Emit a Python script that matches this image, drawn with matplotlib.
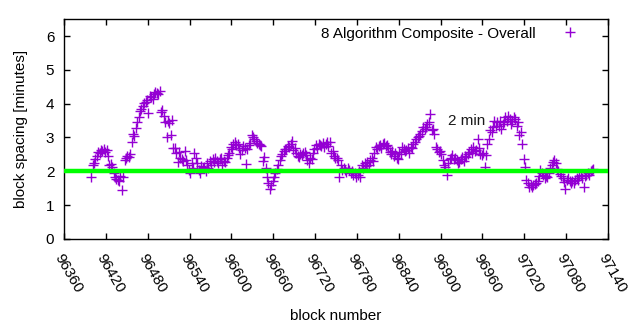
import matplotlib
matplotlib.use("Agg")
import matplotlib.pyplot as plt
import numpy as np

plt.rcParams["font.family"] = ["Liberation Sans", "DejaVu Sans"]

# block spacing (minutes), one reading every 2 blocks starting at FIRST_BLOCK
FIRST_BLOCK = 96399
BLOCK_STEP = 2
spacing = [
    1.84, 2.18, 2.25, 2.37, 2.45, 2.57, 2.55, 2.62, 2.60, 2.66,
    2.57, 2.62, 2.45, 2.18, 2.22, 2.13, 1.95, 1.83, 1.78, 1.74,
    1.70, 1.85, 1.44, 1.83, 2.32, 2.40, 2.45, 2.42, 2.52, 2.86,
    3.11, 3.05, 3.28, 3.45, 3.60, 3.79, 3.85, 3.94, 4.02, 4.04,
    4.10, 3.72, 4.24, 4.20, 4.14, 4.30, 4.35, 4.33, 4.29, 4.38,
    3.74, 3.82, 3.65, 3.45, 3.01, 3.50, 3.42, 3.07, 3.52, 2.68,
    2.68, 2.55, 2.28, 2.58, 2.40, 2.35, 2.30, 2.60, 2.33, 2.20,
    2.05, 1.94, 2.25, 2.10, 2.53, 2.40, 2.24, 2.05, 1.94, 2.15,
    2.10, 2.14, 2.00, 2.24, 2.10, 2.30, 2.18, 2.35, 2.28, 2.38,
    2.30, 2.24, 2.35, 2.40, 2.19, 2.30, 2.28, 2.40, 2.48, 2.55,
    2.71, 2.65, 2.80, 2.86, 2.78, 2.81, 2.70, 2.52, 2.62, 2.76,
    2.70, 2.23, 2.65, 2.78, 2.85, 3.06, 3.00, 2.96, 2.90, 2.85,
    2.81, 2.78, 2.76, 2.30, 2.42, 2.10, 1.83, 1.65, 1.49, 1.59,
    1.70, 1.83, 1.95, 2.08, 2.20, 2.32, 2.45, 2.52, 2.60, 2.67,
    2.65, 2.75, 2.71, 2.80, 2.91, 2.62, 2.70, 2.55, 2.45, 2.42,
    2.50, 2.47, 2.55, 2.57, 2.48, 2.33, 2.24, 2.40, 2.35, 2.55,
    2.65, 2.78, 2.70, 2.82, 2.78, 2.75, 2.85, 2.73, 2.80, 2.87,
    2.75, 2.87, 2.53, 2.60, 2.45, 2.38, 2.40, 2.33, 1.84, 2.20,
    2.04, 2.10, 2.04, 1.98, 2.09, 2.05, 1.95, 2.02, 1.89, 1.95,
    1.84, 1.90, 2.00, 1.84, 2.19, 2.10, 2.24, 2.15, 2.28, 2.20,
    2.33, 2.40, 2.30, 2.55, 2.73, 2.65, 2.75, 2.78, 2.70, 2.80,
    2.83, 2.75, 2.78, 2.70, 2.58, 2.50, 2.60, 2.45, 2.53, 2.40,
    2.35, 2.57, 2.50, 2.72, 2.65, 2.60, 2.62, 2.70, 2.55, 2.72,
    2.68, 2.80, 2.86, 2.95, 3.01, 3.05, 3.11, 3.20, 3.30, 3.25,
    3.30, 3.40, 3.45, 3.69, 3.21, 3.25, 3.11, 2.71, 2.65, 2.57,
    2.60, 2.52, 2.32, 2.20, 2.13, 1.88, 2.25, 2.37, 2.40, 2.47,
    2.35, 2.40, 2.32, 2.25, 2.27, 2.35, 2.42, 2.30, 2.45, 2.42,
    2.50, 2.57, 2.65, 2.55, 2.71, 2.60, 2.62, 2.96, 2.70, 2.50,
    2.47, 2.55, 2.13, 2.47, 2.81, 2.95, 3.21, 3.15, 3.30, 3.50,
    3.35, 3.45, 3.35, 3.50, 3.25, 3.40, 3.45, 3.60, 3.50, 3.65,
    3.55, 3.40, 3.50, 3.62, 3.55, 3.35, 3.45, 3.06, 3.15, 2.81,
    2.37, 2.13, 1.74, 1.65, 1.54, 1.60, 1.55, 1.59, 1.62, 1.64,
    1.70, 1.85, 2.05, 1.95, 1.88, 1.79, 1.85, 1.83, 1.95, 2.10,
    2.18, 2.27, 2.32, 2.25, 2.08, 2.00, 1.93, 1.85, 1.80, 1.69,
    1.49, 1.75, 1.79, 1.70, 1.64, 1.72, 1.66, 1.74, 1.80, 1.74,
    1.85, 1.89, 1.80, 1.54, 1.85, 1.89, 1.95, 1.90, 2.00, 2.05,
    2.08,
]
blocks = FIRST_BLOCK + BLOCK_STEP * np.arange(len(spacing))

target_minutes = 2
x_ticks = list(range(96360, 97141, 60))
y_ticks = [0, 1, 2, 3, 4, 5, 6]


def main() -> None:
    fig = plt.figure(figsize=(6.4, 3.3), dpi=100, facecolor="white")
    ax = fig.add_axes((0.1, 0.276, 0.85, 0.666))

    ax.plot(blocks, spacing, linestyle="none", marker="+", markersize=7,
            markeredgewidth=1.0, color="#9400D3",
            label="8 Algorithm Composite - Overall", zorder=2)
    ax.axhline(target_minutes, color="#00FF00", linewidth=3.2, zorder=3)
    ax.text(96910, 3.5, "2 min", fontsize=11, va="center", ha="left",
            color="#1a1a1a")

    ax.set_xlim(96360, 97140)
    ax.set_ylim(0, 6.5)
    ax.set_xticks(x_ticks)
    ax.set_yticks(y_ticks)
    ax.set_xticklabels([str(t) for t in x_ticks], rotation=-60, ha="left",
                       va="top", rotation_mode="anchor", fontsize=11)
    ax.set_yticklabels([str(t) for t in y_ticks], fontsize=11)
    ax.tick_params(axis="x", direction="in", length=4, width=1, top=True,
                   pad=9)
    ax.tick_params(axis="y", direction="in", length=4, width=1, right=True,
                   pad=7)
    for spine in ax.spines.values():
        spine.set_linewidth(1.0)

    ax.set_xlabel("block number", fontsize=11, labelpad=10)
    ax.set_ylabel("block spacing [minutes]", fontsize=11, labelpad=13)

    ax.legend(loc="upper right", bbox_to_anchor=(0.965, 1.0), frameon=False,
              markerfirst=False, fontsize=11, handlelength=1.5,
              handletextpad=1.5, borderaxespad=0.1)

    fig.savefig("out.png", dpi=100, facecolor=fig.get_facecolor())
    plt.close(fig)


if __name__ == "__main__":
    main()
